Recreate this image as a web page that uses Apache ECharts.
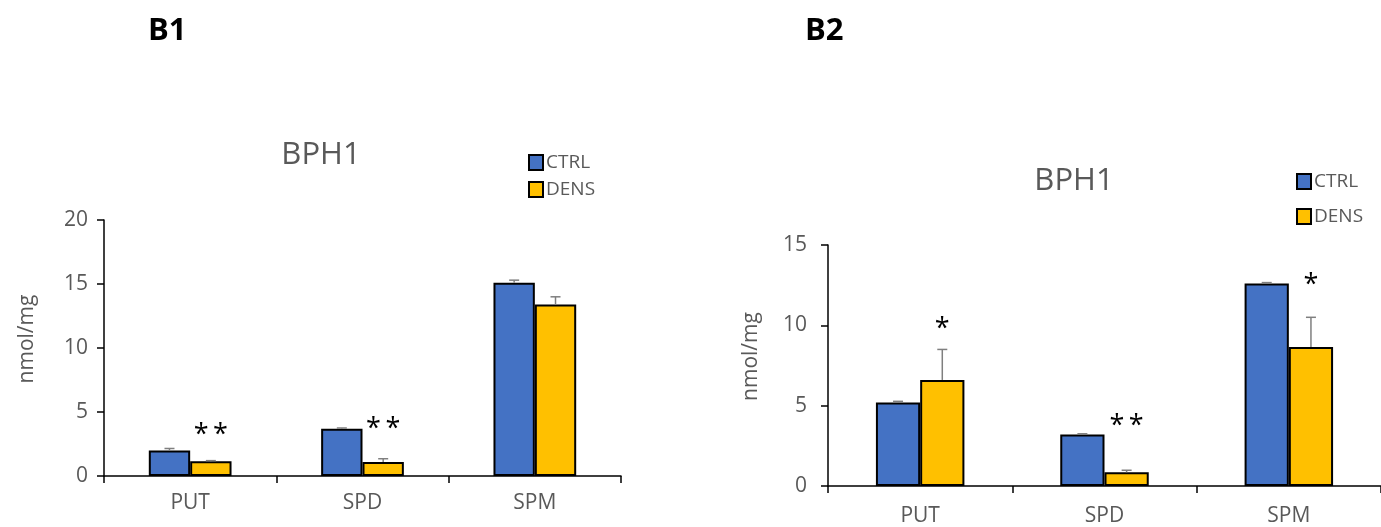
<!DOCTYPE html>
<html>
<head>
<meta charset="utf-8">
<script src="https://cdn.jsdelivr.net/npm/echarts@6/dist/echarts.min.js"></script>
<style>
html,body{margin:0;padding:0;background:#fff;}
#c{width:1381px;height:527px;}
</style>
</head>
<body>
<div id="c"></div>
<script>
// ---------- data ----------
var categories = ['PUT', 'SPD', 'SPM'];
var seriesNames = ['CTRL', 'DENS'];

// Panel B1
var b1Ctrl = [2.0, 3.7, 15.1];
var b1CtrlErr = [0.15, 0.05, 0.2];
var b1Dens = [1.15, 1.1, 13.4];
var b1DensErr = [0.05, 0.25, 0.6];
var b1Stars = ['**', '**', ''];
var b1StarY = [3.75, 4.2, null];
var b1Ticks = [0, 20, 5];

// Panel B2
var b2Ctrl = [5.2, 3.2, 12.6];
var b2CtrlErr = [0.07, 0.05, 0.06];
var b2Dens = [6.6, 0.85, 8.65];
var b2DensErr = [1.9, 0.13, 1.85];
var b2Stars = ['*', '**', '*'];
var b2StarY = [10.2, 4.15, 12.9];
var b2Ticks = [0, 15, 5];

var panelLabels = ['B1', 'B2'];
var chartTitles = ['BPH1', 'BPH1'];
var yName = 'nmol/mg';

// ---------- styles ----------
var FONT = '"Open Sans", "Noto Sans", sans-serif';
var GRAY = '#595959';
var CTRL_COLOR = '#4472C4';
var DENS_COLOR = '#FFC000';
var BAR_FRAC = 0.24;

function errData(vals, errs) {
  return vals.map(function (v, i) { return [i, v, errs[i]]; });
}
function errSeries(vals, errs, sign, gi) {
  return {
    type: 'custom', xAxisIndex: gi, yAxisIndex: gi, z: 5, silent: true,
    data: errData(vals, errs),
    renderItem: function (params, api) {
      var i = api.value(0), v = api.value(1), e = api.value(2);
      var bw = api.size([1, 0])[0];
      var p0 = api.coord([i, v]);
      var p1 = api.coord([i, v + e]);
      var x = p0[0] + sign * BAR_FRAC / 2 * bw;
      var st = { stroke: '#7f7f7f', lineWidth: 1.5 };
      return {
        type: 'group', children: [
          { type: 'line', shape: { x1: x, y1: p0[1], x2: x, y2: p1[1] }, style: st },
          { type: 'line', shape: { x1: x - 5, y1: p1[1], x2: x + 5, y2: p1[1] }, style: st }
        ]
      };
    }
  };
}
function starSeries(stars, ys, gi) {
  var data = [];
  ys.forEach(function (y, i) { if (y !== null) data.push([i, y]); });
  return {
    type: 'custom', xAxisIndex: gi, yAxisIndex: gi, z: 6, silent: true,
    data: data,
    renderItem: function (params, api) {
      var i = api.value(0), y = api.value(1);
      var bw = api.size([1, 0])[0];
      var p = api.coord([i, y]);
      return {
        type: 'text',
        style: {
          text: stars[i].split('').join('\u2009'), x: p[0] + BAR_FRAC / 2 * bw, y: p[1] + 7,
          align: 'center', verticalAlign: 'middle',
          fontFamily: FONT, fontSize: 27, fill: '#000'
        }
      };
    }
  };
}
function barSeries(name, vals, color, gi) {
  return {
    name: name, type: 'bar', xAxisIndex: gi, yAxisIndex: gi,
    data: vals, barWidth: (BAR_FRAC * 100) + '%', barGap: '0%',
    itemStyle: { color: color, borderColor: '#000', borderWidth: 2 },
    emphasis: { disabled: true }
  };
}
function xAxis(gi, margin) {
  return {
    type: 'category', gridIndex: gi, data: categories,
    axisLine: { lineStyle: { color: '#000', width: 1.5 } },
    axisTick: { show: true, length: 7, lineStyle: { color: '#000', width: 1.5 } },
    axisLabel: { color: GRAY, fontFamily: FONT, fontSize: 21, margin: margin }
  };
}
function yAxis(gi, t, margin, gap) {
  return {
    type: 'value', gridIndex: gi, min: t[0], max: t[1], interval: t[2],
    name: yName, nameLocation: 'middle', nameGap: gap, nameRotate: 90,
    nameTextStyle: { color: GRAY, fontFamily: FONT, fontSize: 21, padding: [0, 0, 0, 18] },
    splitLine: { show: false },
    axisLine: { show: true, lineStyle: { color: '#000', width: 1.5 } },
    axisTick: { show: true, length: 7, lineStyle: { color: '#000', width: 1.5 } },
    axisLabel: { color: GRAY, fontFamily: FONT, fontSize: 21, margin: margin }
  };
}

var chart = echarts.init(document.getElementById('c'), null, { renderer: 'canvas' });
chart.setOption({
  animation: false,
  backgroundColor: '#fff',
  title: [
    { text: panelLabels[0], left: 143, top: 11, textStyle: { fontFamily: FONT, fontWeight: 'bold', fontSize: 31, color: '#000' } },
    { text: panelLabels[1], left: 800, top: 11, textStyle: { fontFamily: FONT, fontWeight: 'bold', fontSize: 31, color: '#000' } },
    { text: chartTitles[0], left: 316, top: 135, textAlign: 'center', textStyle: { fontFamily: FONT, fontWeight: 'normal', fontSize: 31, color: GRAY } },
    { text: chartTitles[1], left: 1069, top: 161, textAlign: 'center', textStyle: { fontFamily: FONT, fontWeight: 'normal', fontSize: 31, color: GRAY } }
  ],
  legend: [
    { data: seriesNames, orient: 'vertical', left: 523, top: 148, itemWidth: 14, itemHeight: 15, itemGap: 8,
      icon: 'rect', selectedMode: false,
      itemStyle: { borderColor: '#000', borderWidth: 2 },
      textStyle: { color: GRAY, fontFamily: FONT, fontSize: 19, padding: [0, 0, 0, -2] } },
    { data: seriesNames, orient: 'vertical', left: 1291, top: 167, itemWidth: 14, itemHeight: 15, itemGap: 16,
      icon: 'rect', selectedMode: false,
      itemStyle: { borderColor: '#000', borderWidth: 2 },
      textStyle: { color: GRAY, fontFamily: FONT, fontSize: 19, padding: [0, 0, 0, -2] } }
  ],
  grid: [
    { left: 104, top: 220, width: 517, height: 256 },
    { left: 828, top: 245, width: 553, height: 242 }
  ],
  xAxis: [xAxis(0, 17), xAxis(1, 20)],
  yAxis: [yAxis(0, b1Ticks, 16, 66), yAxis(1, b2Ticks, 21, 66)],
  series: [
    barSeries(seriesNames[0], b1Ctrl, CTRL_COLOR, 0),
    barSeries(seriesNames[1], b1Dens, DENS_COLOR, 0),
    errSeries(b1Ctrl, b1CtrlErr, -1, 0),
    errSeries(b1Dens, b1DensErr, 1, 0),
    starSeries(b1Stars, b1StarY, 0),
    barSeries(seriesNames[0], b2Ctrl, CTRL_COLOR, 1),
    barSeries(seriesNames[1], b2Dens, DENS_COLOR, 1),
    errSeries(b2Ctrl, b2CtrlErr, -1, 1),
    errSeries(b2Dens, b2DensErr, 1, 1),
    starSeries(b2Stars, b2StarY, 1)
  ]
});
</script>
</body>
</html>
